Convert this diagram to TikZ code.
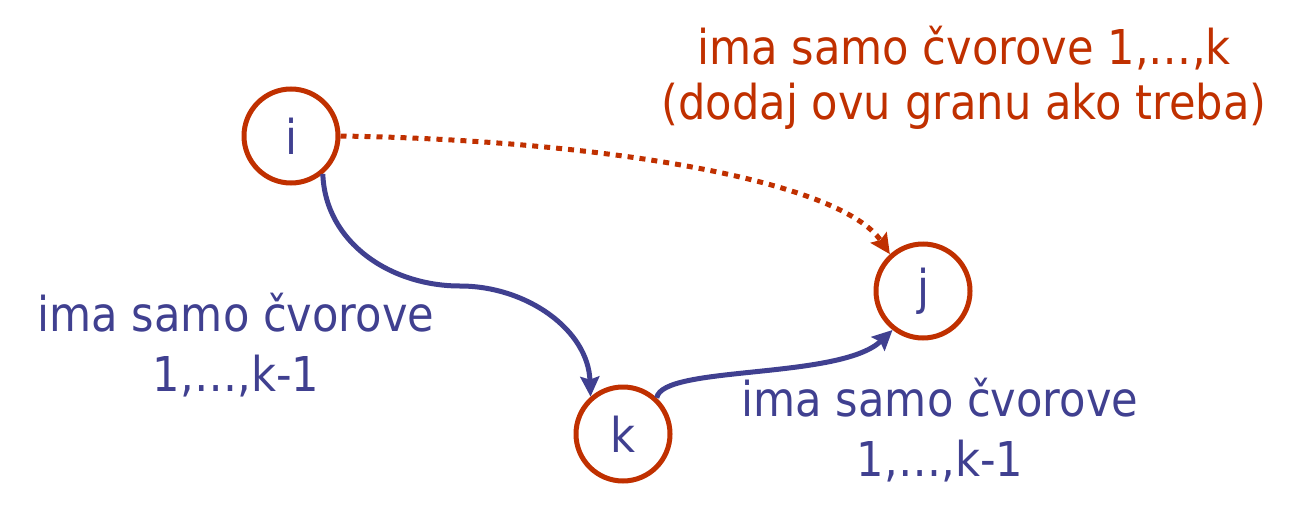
\documentclass[tikz,border=0pt]{standalone}
\usepackage{fontspec}
\setmainfont{DejaVu Sans}[FakeStretch=0.9]
\usetikzlibrary{arrows.meta}
\definecolor{nodered}{RGB}{192,48,0}
\definecolor{pathblue}{RGB}{64,64,144}
\begin{document}
\begin{tikzpicture}[x=1pt, y=-1pt,
    vertex/.style={circle, draw=nodered, line width=5pt, minimum size=94pt,
                   inner sep=0pt, text=pathblue},
    label/.style={align=center, font=\fontsize{48}{60}\selectfont},
    tip/.style={-{Stealth[length=20pt, width=19pt, inset=3pt]}}]

            \useasboundingbox (0,0) rectangle (1305,519);

            % Čvorovi
            \foreach \n/\x/\y in {i/291/136, k/623/434, j/923/291} {
                \node[vertex, font=\fontsize{48}{55}\selectfont] (\n) at (\x,\y) {\n};
            }

            % Putevi preko k
            \coordinate (bend) at (460,286);
            \draw[tip, pathblue, line width=5pt]
                (i.-50) to[out=-88, in=180] (bend) to[out=0, in=92] (k.131);
            \draw[tip, pathblue, line width=5pt]
                (k.47) .. controls (662,365) and (840,380) .. (j.-128);

            % Direktna grana
            \draw[tip, nodered, line width=5pt, dash pattern=on 6pt off 6pt]
                (i.0) .. controls (600,140) and (840,180) .. (j.132);

            % Oznake
            \node[label, text=nodered, font=\fontsize{48}{55}\selectfont] (top) at (964,78) {ima samo čvorove 1,…,k\\(dodaj ovu granu ako treba)};
            \node[label, text=pathblue] (left) at (236,345) {ima samo čvorove\\1,…,k-1};
            \node[label, text=pathblue] (right) at (940,430) {ima samo čvorove\\1,…,k-1};

            \end{tikzpicture}
\end{document}
